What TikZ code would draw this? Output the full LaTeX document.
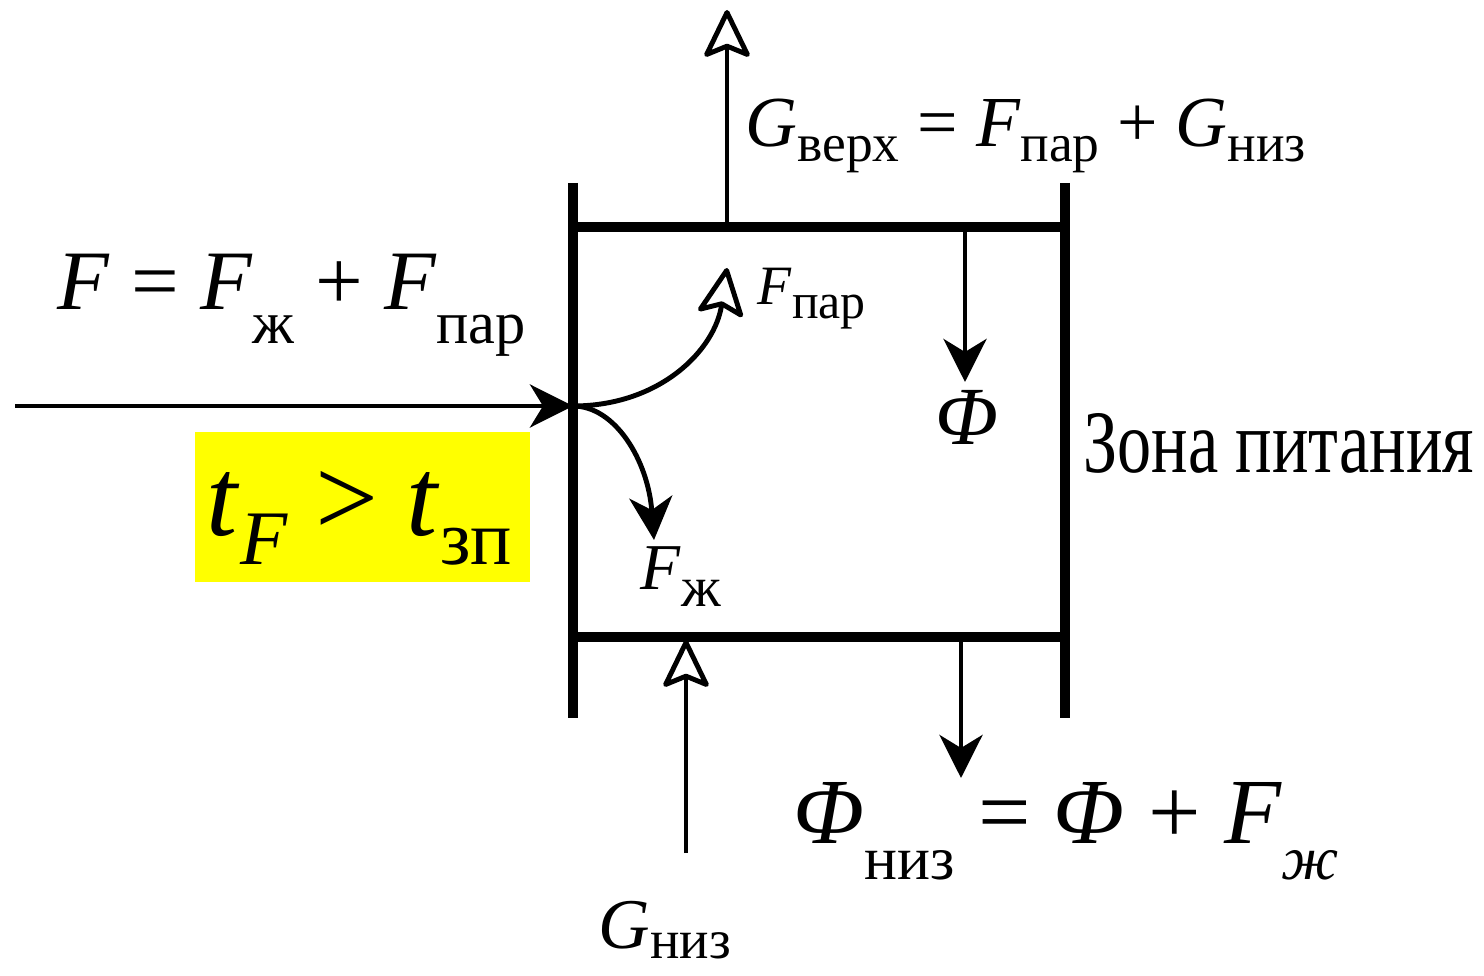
\documentclass[tikz,border=0pt]{standalone}
\usepackage{fontspec}
\setmainfont{Liberation Serif}
\usetikzlibrary{arrows.meta}
\definecolor{zoneInk}{HTML}{000000}
\definecolor{zoneMark}{HTML}{FFFF00}
\newcommand{\losize}{17.5pt}
\newcommand{\lo}[2][-0.2em]{\raisebox{#1}{\fontsize{\losize}{\losize}\selectfont #2}}
\tikzset{
  every picture/.style={font=\rmfamily\fontsize{23.5pt}{26pt}\selectfont, text=zoneInk},
  zone wall/.style={draw=zoneInk, line width=2.85pt},
  zone flow/.style={draw=zoneInk, line width=1.4pt, line join=round},
  zone filled/.style={zone flow, -{Stealth[length=4.3mm,width=4.3mm,inset=1.3mm]}},
  zone open/.style={zone flow, -{Stealth[open,length=5.2mm,width=5mm,inset=1mm,round]}},
  zone label/.style={inner sep=0pt, anchor=base west}
}

\begin{document}
\begin{tikzpicture}[x=0.01cm,y=-0.01cm]
  \useasboundingbox (0,0) rectangle (1484,976);
  % frame of the feed zone
  \coordinate (wl top) at (573,183);
  \coordinate (wl bot) at (573,718);
  \coordinate (wr top) at (1065,183);
  \coordinate (wr bot) at (1065,718);
  \coordinate (tl) at (573,227);
  \coordinate (tr) at (1065,227);
  \coordinate (bl) at (573,637);
  \coordinate (br) at (1065,637);
  \draw[zone wall] (wl top) -- (wl bot);
  \draw[zone wall] (wr top) -- (wr bot);
  \draw[zone wall] (tl) -- (tr);
  \draw[zone wall] (bl) -- (br);

  % flow points
  \coordinate (feed src) at (15,406);
  \coordinate (feed in) at (573,406);
  \coordinate (vap src) at (727,227);
  \coordinate (vap tip) at (727,10);
  \coordinate (phi src) at (965,227);
  \coordinate (phi tip) at (965,382);
  \coordinate (liq src) at (961,637);
  \coordinate (liq tip) at (961,778);
  \coordinate (gniz src) at (686,853);
  \coordinate (gniz tip) at (686,640);
  \coordinate (fpar tip) at (727,268);
  \coordinate (fzh tip) at (654,540);

  \draw[zone filled] (feed src) -- (feed in);
  \draw[zone open] (vap src) -- (vap tip);
  \draw[zone filled] (phi src) -- (phi tip);
  \draw[zone filled] (liq src) -- (liq tip);
  \draw[zone open] (gniz src) -- (gniz tip);
  \draw[zone open] (feed in) .. controls (660,406) and (715,350) .. (fpar tip);
  \draw[zone filled] (feed in) .. controls (615,406) and (648,460) .. (fzh tip);

  % labels
  \node[zone label] (vap label) at (745,147)
    {\resizebox{5.6cm}{!}{\textit{G}\lo{верх} = \textit{F}\lo{пар} + \textit{G}\lo{низ}}};
  \node[zone label, font=\fontsize{24.5pt}{26pt}\selectfont] (feed label) at (57,310)
    {\resizebox{4.68cm}{!}{\textit{F} = \textit{F}\lo[-0.4em]{ж} + \textit{F}\lo[-0.4em]{пар}}};
  \node[zone label, font=\fontsize{19.5pt}{22pt}\selectfont] (fpar label) at (757,305)
    {\resizebox{1.08cm}{!}{\textit{F}\lo[-0.25em]{пар}}};
  \node[zone label] (phi label) at (935,445) {\textit{Φ}};
  \node[zone label, font=\fontsize{25pt}{28pt}\selectfont] (zone label) at (1083,472)
    {\resizebox{3.9cm}{0.59cm}{Зона питания}};
  \fill[zoneMark] (195,432) rectangle (530,582);
  \node[zone label, font=\fontsize{29pt}{32pt}\selectfont] (cond label) at (206,535)
    {\resizebox{3.05cm}{!}{\renewcommand{\losize}{20pt}\textit{t}\lo[-0.26em]{\textit{F}} \textgreater{} \textit{t}\lo[-0.26em]{зп}}};
  \node[zone label, font=\fontsize{20pt}{22pt}\selectfont] (fzh label) at (640,590)
    {\resizebox{0.8cm}{!}{\textit{F}\lo[-0.25em]{ж}}};
  \node[zone label, font=\fontsize{26.5pt}{28pt}\selectfont] (liq label) at (793,843)
    {\textit{Φ}\lo[-0.39em]{низ} = \textit{Φ} + \textit{F}\lo[-0.39em]{\textit{ж}}};
  \node[zone label, font=\fontsize{22.7pt}{26pt}\selectfont] (gniz label) at (598,948)
    {\resizebox{1.32cm}{!}{\textit{G}\lo[-0.15em]{низ}}};
\end{tikzpicture}
\end{document}
